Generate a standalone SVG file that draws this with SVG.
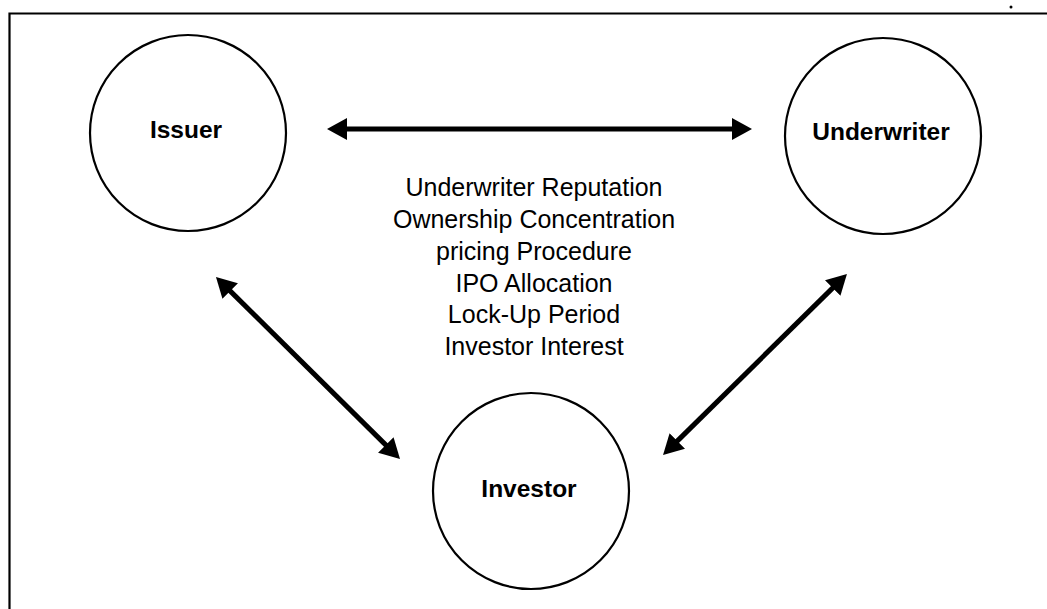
<svg xmlns="http://www.w3.org/2000/svg" width="1047" height="609" viewBox="0 0 1047 609">
  <style>
    .node { fill: #fff; stroke: #000; stroke-width: 2.2; }
    .label { font-family: "Liberation Sans", Arial, sans-serif; font-weight: bold; font-size: 24.5px; text-anchor: middle; fill: #000; }
    .factor { font-family: "Liberation Sans", Arial, sans-serif; font-size: 25px; text-anchor: middle; fill: #000; }
    .conn { stroke: #000; stroke-width: 5; fill: none; marker-start: url(#head); marker-end: url(#head); }
    .frame { stroke: #000; stroke-width: 2.2; fill: none; }
  </style>
  <defs>
    <marker id="head" viewBox="0 0 20 22" refX="8" refY="11" markerWidth="20" markerHeight="22" markerUnits="userSpaceOnUse" orient="auto-start-reverse">
      <path d="M0,0 L20,11 L0,22 Z" fill="#000"/>
    </marker>
  </defs>
  <rect width="1047" height="609" fill="#fff"/>
  <g id="frame">
    <polyline class="frame" points="9.5,609 9.5,13.5 1047,13.5"/>
    <circle cx="1011" cy="7" r="1.5" fill="#000"/>
  </g>
  <g id="connectors">
    <line class="conn" x1="339" y1="129" x2="740" y2="129"/>
    <line class="conn" x1="224.5" y1="285.4" x2="391.5" y2="450.6"/>
    <line class="conn" x1="671.6" y1="446.6" x2="838.4" y2="282.4"/>
  </g>
  <g id="issuer">
    <circle class="node" cx="188" cy="133" r="98"/>
    <text class="label" x="186" y="138">Issuer</text>
  </g>
  <g id="underwriter">
    <circle class="node" cx="883" cy="136" r="98"/>
    <text class="label" x="881" y="140">Underwriter</text>
  </g>
  <g id="investor">
    <circle class="node" cx="531" cy="491" r="98"/>
    <text class="label" x="529" y="497">Investor</text>
  </g>
  <g id="factors">
    <text class="factor" x="534" y="196">Underwriter Reputation</text>
    <text class="factor" x="534" y="228">Ownership Concentration</text>
    <text class="factor" x="534" y="260">pricing Procedure</text>
    <text class="factor" x="534" y="291.5">IPO Allocation</text>
    <text class="factor" x="534" y="323">Lock-Up Period</text>
    <text class="factor" x="534" y="355">Investor Interest</text>
  </g>
</svg>
